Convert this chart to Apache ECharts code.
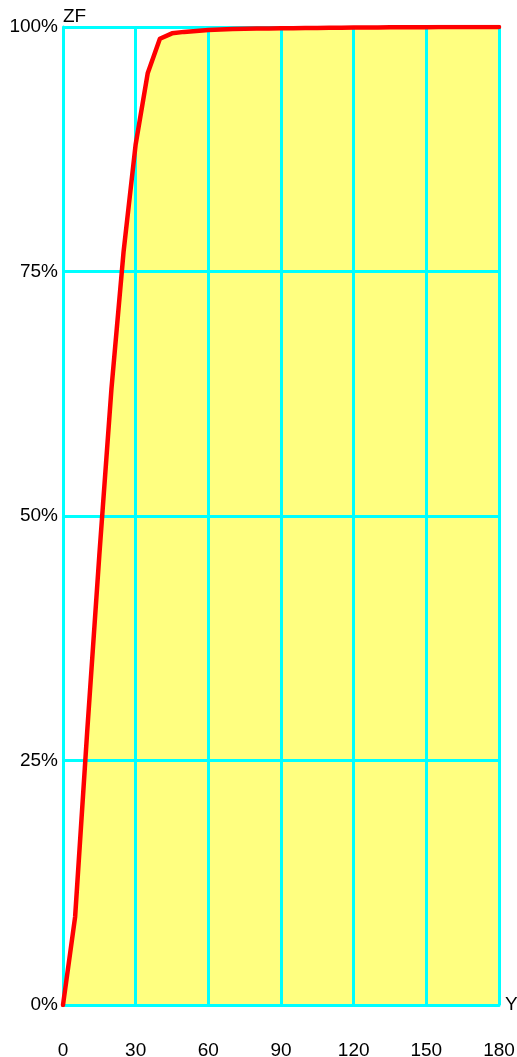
<!DOCTYPE html>
<html>
<head>
<meta charset="utf-8">
<script src="https://cdn.jsdelivr.net/npm/echarts@6/dist/echarts.min.js"></script>
<style>
html,body{margin:0;padding:0;background:#fff;overflow:hidden;}
#c{width:517px;height:1057px;}
</style>
</head>
<body>
<div id="c"></div>
<script>
var xValues = [0,5,10,15,20,25,30,35,40,45,50,55,60,65,70,75,80,85,90,95,100,105,110,115,120,125,130,135,140,145,150,155,160,165,170,175,180];
var zfValues = [0,9,28,46,63,77,88,95.3,98.8,99.35,99.5,99.6,99.7,99.75,99.8,99.82,99.84,99.85,99.87,99.88,99.9,99.91,99.92,99.93,99.94,99.95,99.96,99.97,99.97,99.98,99.98,99.99,99.99,99.99,100,100,100];
var xTicks = [0,30,60,90,120,150,180];
var yTicks = [0,25,50,75,100];

var pts = xValues.map(function(x,i){return [x, zfValues[i]];});
var font = 'Liberation Sans, Arial, Helvetica, sans-serif';
var chart = echarts.init(document.getElementById('c'), null, {renderer:'canvas'});
chart.setOption({
  animation:false,
  grid:{left:63, right:18, top:27, bottom:52, containLabel:false, outerBoundsMode:'none'},
  xAxis:{
    type:'value', min:0, max:180, interval:30, z:3,
    name:'Y', nameLocation:'end', nameGap:6, nameMoveOverlap:false,
    nameTextStyle:{color:'#000', fontSize:19, fontFamily:font, align:'left', verticalAlign:'middle'},
    axisLine:{show:true, lineStyle:{color:'#00ffff', width:3}},
    axisTick:{show:false},
    axisLabel:{color:'#000', fontSize:19, fontFamily:font, margin:36, hideOverlap:false,
      formatter:function(v){return xTicks.indexOf(v)>=0 ? String(v) : '';}},
    splitLine:{show:true, lineStyle:{color:'#00ffff', width:3}}
  },
  yAxis:{
    type:'value', min:0, max:100, interval:25, z:3,
    name:'ZF', nameLocation:'end', nameGap:1, nameMoveOverlap:false,
    nameTextStyle:{color:'#000', fontSize:19, fontFamily:font, align:'left', verticalAlign:'bottom'},
    axisLine:{show:true, lineStyle:{color:'#00ffff', width:3}},
    axisTick:{show:false},
    axisLabel:{color:'#000', fontSize:19, fontFamily:font, margin:5,
      formatter:function(v){return yTicks.indexOf(v)>=0 ? v + '%' : '';}},
    splitLine:{show:true, lineStyle:{color:'#00ffff', width:3}}
  },
  series:[
    {type:'line', data:pts, z:1, symbol:'none', silent:true,
      lineStyle:{width:0, opacity:0},
      areaStyle:{color:'#ffff80', opacity:1}},
    {type:'line', data:pts, z:5, symbol:'none',
      lineStyle:{color:'#ff0000', width:4.5, join:'round', cap:'round'}}
  ]
});
</script>
</body>
</html>
